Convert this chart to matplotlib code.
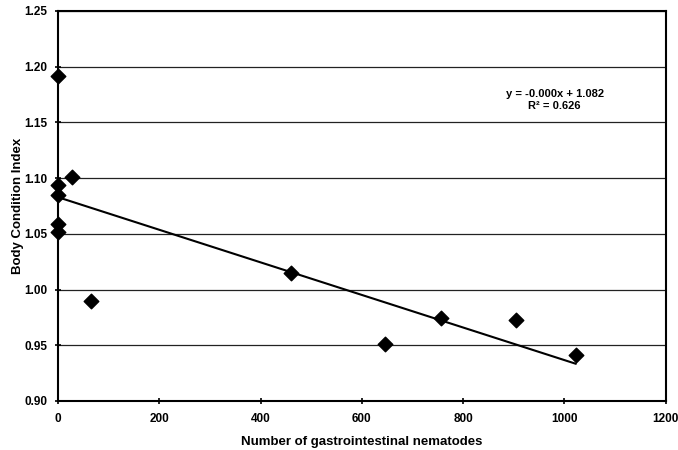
import numpy as np
import matplotlib
matplotlib.use("Agg")
import matplotlib.pyplot as plt

plt.rcParams['font.family'] = ['Liberation Sans', 'DejaVu Sans']

# nematode counts and body condition index
nematodes = np.array([0, 28, 0, 0, 0, 0, 65, 460, 645, 757, 904, 1022])
bci = np.array([1.192, 1.101, 1.094, 1.085, 1.059, 1.052, 0.990, 1.015, 0.951, 0.974, 0.973, 0.941])
y_ticks = [0.90, 0.95, 1.00, 1.05, 1.10, 1.15, 1.20, 1.25]
x_ticks = [0, 200, 400, 600, 800, 1000, 1200]

eq_text = "y = -0.000x + 1.082\nR² = 0.626"

# linear trend line
slope, intercept = np.polyfit(nematodes, bci, 1)
xs = np.array([nematodes.min(), nematodes.max()])

fig = plt.figure(figsize=(6.78, 4.5), dpi=100)
ax = fig.add_axes([0.0855, 0.109, 0.8965, 0.8666])

ax.set_xlim(0, 1200)
ax.set_ylim(0.90, 1.25)
ax.set_yticks(y_ticks)
ax.set_yticklabels([f"{v:.2f}" for v in y_ticks], fontweight='bold')
ax.set_xticks(x_ticks)
ax.set_xticklabels([str(v) for v in x_ticks], fontweight='bold')
ax.yaxis.grid(True, color='#222222', linewidth=0.9)
ax.set_axisbelow(True)

ax.plot(xs, intercept + slope * xs, color='black', linewidth=1.5, zorder=3)
ax.scatter(nematodes, bci, marker='D', s=55, color='black', zorder=4, clip_on=False)

ax.text(0.817, 0.772, eq_text, transform=ax.transAxes, ha='center', va='center',
        fontsize=8, fontweight='bold', linespacing=1.3)

for s in ax.spines.values():
    s.set_linewidth(1.5)
    s.set_color('black')

ax.tick_params(axis='both', direction='inout', length=5, width=1.2, labelsize=8.5)
ax.tick_params(axis='x', pad=6)
ax.tick_params(axis='y', pad=5)

ax.set_xlabel('Number of gastrointestinal nematodes', fontsize=9.5, fontweight='bold', labelpad=8)
ax.set_ylabel('Body Condition Index', fontsize=9.5, fontweight='bold', labelpad=0)

fig.savefig('out.png', dpi=100)
